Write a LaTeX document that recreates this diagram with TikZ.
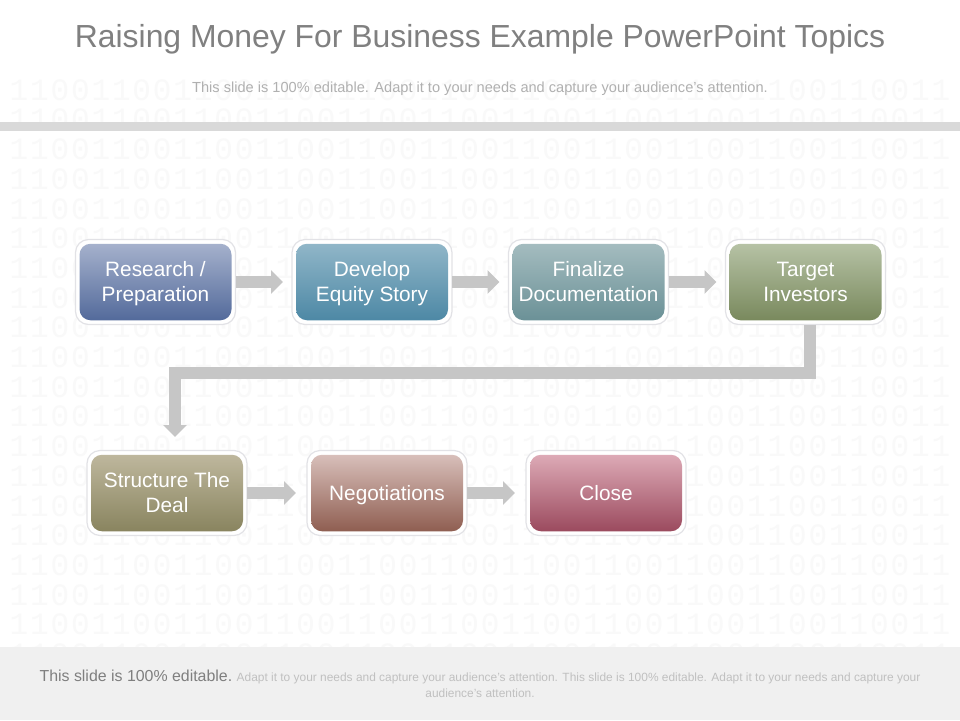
\documentclass[tikz,border=0pt]{standalone}
\usepackage{fontspec}
\setmainfont{Liberation Sans}
\newfontfamily\digitfont[LetterSpace=6.1]{Liberation Mono}
\usetikzlibrary{arrows.meta}
\definecolor{digitc}{HTML}{F9F9F9}
\definecolor{barc}{HTML}{D9D9D9}
\definecolor{bandc}{HTML}{F0F0F0}
\definecolor{titlec}{HTML}{808080}
\definecolor{subc}{HTML}{B0B0B0}
\definecolor{footc}{HTML}{7F7F7F}
\definecolor{footl}{HTML}{C0C0C0}
\definecolor{arrowc}{HTML}{C6C6C6}
\definecolor{edgec}{HTML}{E2E2E6}
\definecolor{t1}{HTML}{A5B1CC}\definecolor{b1}{HTML}{536A9B}
\definecolor{t2}{HTML}{90B6C8}\definecolor{b2}{HTML}{4D88A5}
\definecolor{t3}{HTML}{A4BCBF}\definecolor{b3}{HTML}{6B9197}
\definecolor{t4}{HTML}{B6C2A5}\definecolor{b4}{HTML}{79895D}
\definecolor{t5}{HTML}{BEB79D}\definecolor{b5}{HTML}{89845F}
\definecolor{t6}{HTML}{D8BFBA}\definecolor{b6}{HTML}{8F5E51}
\definecolor{t7}{HTML}{DDAAB6}\definecolor{b7}{HTML}{9B4A5E}
\newcommand{\lineprop}{\rule[-5.5pt]{0pt}{25pt}}
\tikzset{
  x=1pt,y=-1pt,
  digits/.style={font=\fontsize{31}{33}\digitfont,text=digitc,inner sep=0,anchor=center},
  outerbox/.style={draw=edgec,line width=1.2pt,fill=white,rounded corners=13pt,minimum width=160pt,minimum height=85pt,inner sep=0,outer sep=0},
  stepbox/.style n args={2}{rounded corners=11pt,top color=#1,bottom color=#2,minimum width=152pt,minimum height=76.5pt,inner sep=0,
     text=white,align=center,font=\fontsize{20.8}{25}\selectfont},
  flow/.style={draw=arrowc,line width=12pt,-{Triangle[length=12pt,width=23pt]},shorten >=9pt},
  flowlow/.style={flow,shorten >=11pt},
}
\begin{document}
\begin{tikzpicture}
\useasboundingbox (0,0) rectangle (960,720);
\fill[white] (0,0) rectangle (960,720);
\foreach \i in {0,...,19}{
  \node[digits] (row\i) at (480,{90+29.7*\i}) {1100110011001100110011001100110011001100110011};
}
\fill[barc] (0,122) rectangle (960,131);
\fill[bandc] (0,647) rectangle (960,720);
\node[inner sep=0,anchor=base,text=titlec,font=\fontsize{31.9}{36}\selectfont] (title) at (480,47) {Raising Money For Business Example PowerPoint Topics};
\node[inner sep=0,anchor=base,text=subc,font=\fontsize{14.6}{17}\selectfont] (sub) at (480,92) {This slide is 100\% editable. Adapt it to your needs and capture your audience's attention.};
\node[inner sep=0,align=center,text=footl,font=\fontsize{11.93}{16}\selectfont] (foot) at (480,684)
 {{\color{footc}\fontsize{15.9}{16}\selectfont This slide is 100\% editable.} Adapt it to your needs and capture your audience's attention. This slide is 100\% editable. Adapt it to your needs and capture your\\audience's attention.};

\node[outerbox] (o1) at (155.5,282) {};
\node[outerbox] (o2) at (372,282) {};
\node[outerbox] (o3) at (588.5,282) {};
\node[outerbox] (o4) at (805.5,282) {};
\node[outerbox] (o5) at (167,493) {};
\node[outerbox] (o6) at (387,493) {};
\node[outerbox] (o7) at (606,493) {};

\node[stepbox={t1}{b1}] (s1) at (o1) {\lineprop Research /\\\lineprop Preparation};
\node[stepbox={t2}{b2}] (s2) at (o2) {\lineprop Develop\\\lineprop Equity Story};
\node[stepbox={t3}{b3}] (s3) at (o3) {\lineprop Finalize\\\lineprop Documentation};
\node[stepbox={t4}{b4}] (s4) at (o4) {\lineprop Target\\\lineprop Investors};
\node[stepbox={t5}{b5}] (s5) at (o5) {\lineprop Structure The\\\lineprop Deal};
\node[stepbox={t6}{b6}] (s6) at (o6) {\lineprop Negotiations};
\node[stepbox={t7}{b7}] (s7) at (o7) {\lineprop Close};

\draw[flow] (o1.east) -- (o2.west);
\draw[flow] (o2.east) -- (o3.west);
\draw[flow] (o3.east) -- (o4.west);
\draw[flowlow] (o5.east) -- (o6.west);
\draw[flowlow] (o6.east) -- (o7.west);
\coordinate (bendR) at (809.5,372.5);
\coordinate (bendL) at (175,372.5);
\coordinate (tip) at (175,437);
\draw[flow,shorten >=0pt] (bendR |- o4.south) -- (bendR) -- (bendL) -- (tip);
\end{tikzpicture}
\end{document}
